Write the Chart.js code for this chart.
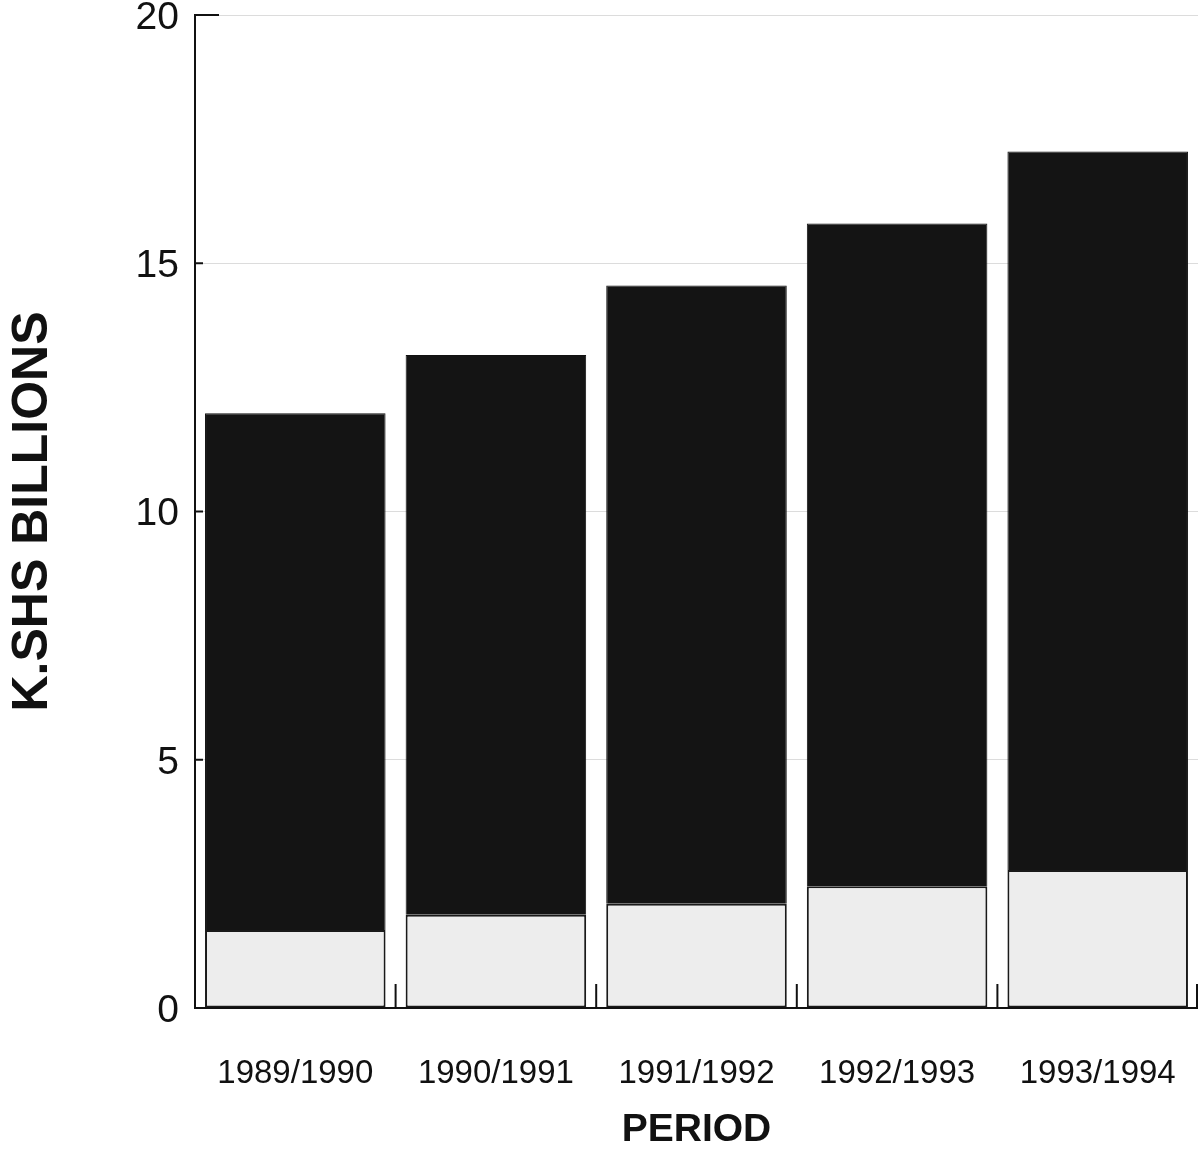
<!DOCTYPE html>
<html>
<head>
<meta charset="utf-8">
<script src="https://cdn.jsdelivr.net/npm/chart.js@4"></script>
<style>
  html, body { margin: 0; padding: 0; background: #fff; }
  #wrap { width: 1198px; height: 1150px; }
</style>
</head>
<body>
<div id="wrap"><canvas id="chart" width="1198" height="1150"></canvas></div>
<script>
const periods = ['1989/1990', '1990/1991', '1991/1992', '1992/1993', '1993/1994'];
const lowerPart = [1.57, 1.88, 2.1, 2.45, 2.78];     // light grey segment
const upperPart = [10.41, 11.27, 12.45, 13.35, 14.47]; // black segment on top
const yTicks = [0, 5, 10, 15, 20];

// inward ticks on the y axis + small ticks between the bars on the x axis
const axisMarks = {
  id: 'axisMarks',
  afterDraw(chart) {
    const { ctx, scales: { x, y } } = chart;
    ctx.save();
    ctx.strokeStyle = '#111';
    ctx.lineWidth = 2;
    yTicks.forEach(v => {
      const py = y.getPixelForValue(v);
      const len = v === 20 ? 24 : 8;
      ctx.beginPath();
      ctx.moveTo(y.right, py);
      ctx.lineTo(y.right + len, py);
      ctx.stroke();
    });
    const base = y.getPixelForValue(0);
    for (let i = 0; i < periods.length; i++) {
      const px = i < periods.length - 1
        ? (x.getPixelForValue(i) + x.getPixelForValue(i + 1)) / 2
        : x.right - 1;
      ctx.beginPath();
      ctx.moveTo(px, base);
      ctx.lineTo(px, base - 24);
      ctx.stroke();
    }
    ctx.restore();
  }
};

new Chart(document.getElementById('chart'), {
  type: 'bar',
  data: {
    labels: periods,
    datasets: [
      {
        label: 'lower',
        data: lowerPart,
        backgroundColor: '#ededed',
        borderColor: '#1a1a1a',
        borderWidth: 2,
        borderSkipped: false
      },
      {
        label: 'upper',
        data: upperPart,
        backgroundColor: '#141414',
        borderColor: '#111',
        borderWidth: 1,
        borderSkipped: 'bottom'
      }
    ]
  },
  options: {
    responsive: false,
    animation: false,
    layout: { padding: { top: 15, right: 0, bottom: 0, left: 0 } },
    plugins: {
      legend: { display: false },
      tooltip: { enabled: false }
    },
    datasets: { bar: { barPercentage: 0.9, categoryPercentage: 1.0 } },
    scales: {
      x: {
        stacked: true,
        grid: { display: false, drawTicks: false },
        border: { color: '#111', width: 2 },
        ticks: {
          color: '#111',
          font: { family: 'Liberation Sans', size: 33 },
          padding: 46,
          maxRotation: 0
        },
        title: {
          display: true,
          text: 'PERIOD',
          color: '#111',
          font: { family: 'Liberation Sans', size: 39, weight: 'bold', lineHeight: 1.0 },
          padding: { top: -4, bottom: 0 }
        },
        afterFit(scale) {
          scale.height = 142;
          scale.paddingLeft = 0;
          scale.paddingRight = 0;
        }
      },
      y: {
        stacked: true,
        min: 0,
        max: 20,
        afterBuildTicks(scale) { scale.ticks = yTicks.map(v => ({ value: v })); },
        grid: { color: '#dcdcdc', lineWidth: 1, drawTicks: false },
        border: { color: '#111', width: 2 },
        ticks: {
          color: '#111',
          font: { family: 'Liberation Sans', size: 39 },
          padding: 16,
          labelOffset: 3
        },
        title: {
          display: true,
          text: 'K.SHS BILLIONS',
          color: '#111',
          font: { family: 'Liberation Sans', size: 50, weight: 'bold', lineHeight: 1.0 },
          padding: { top: 8, bottom: 0 }
        },
        afterFit(scale) {
          scale.width = 195;
          scale.paddingTop = 0;
          scale.paddingBottom = 0;
        }
      }
    }
  },
  plugins: [axisMarks]
});
</script>
</body>
</html>
